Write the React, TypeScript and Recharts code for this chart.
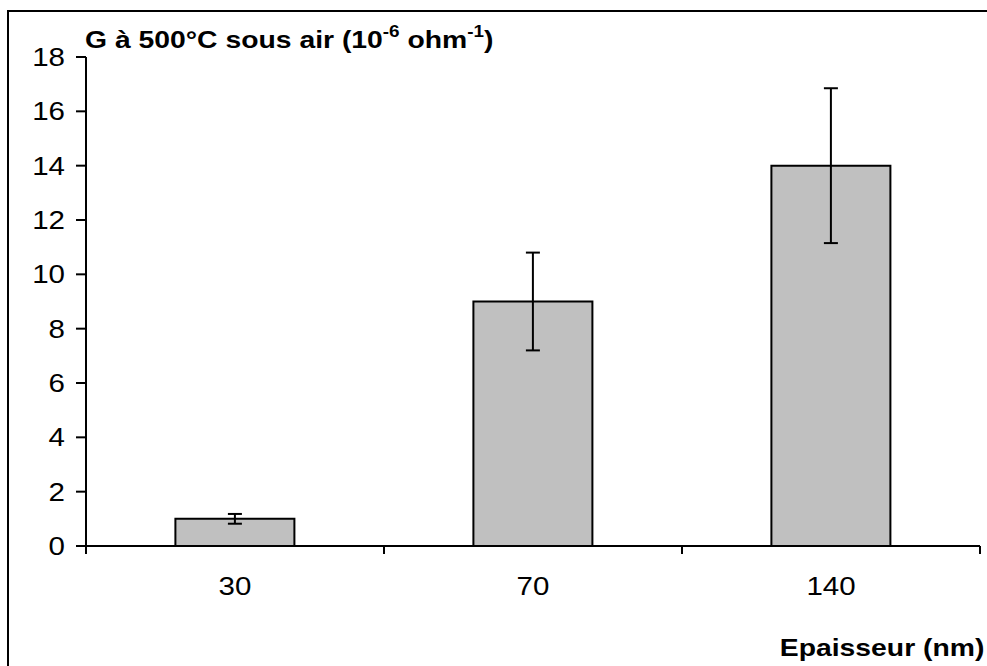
import React from "react";
import { BarChart, Bar, XAxis, YAxis, ErrorBar } from "recharts";

// Epaisseur (nm) -> conductance G (10^-6 ohm^-1)
const categories = ["30", "70", "140"];
const values = [1.0, 9.0, 14.0];
const errors = [0.18, 1.8, 2.85];
const yTicks = [0, 2, 4, 6, 8, 10, 12, 14, 16, 18];

const data = categories.map((c, i) => ({ name: c, g: values[i], err: errors[i] }));

const W = 987;
const H = 666;
const LEFT = 86;
const RIGHT = 7;
const FONT = "'Liberation Sans', Arial, Helvetica, sans-serif";
const STRETCH = 1.18; // the source text is a bit wider than tall
const band = (W - LEFT - RIGHT) / categories.length;

function CatTick(props: any) {
  const { x, y, payload, index } = props;
  const last = index === categories.length - 1;
  return (
    <g>
      <line x1={x - band / 2} x2={x - band / 2} y1={y} y2={y + 8} stroke="#000" strokeWidth={2} />
      {last && <line x1={x + band / 2} x2={x + band / 2} y1={y} y2={y + 8} stroke="#000" strokeWidth={2} />}
      <g transform={`translate(${x},${y + 49}) scale(${STRETCH},1)`}>
        <text x={0} y={0} textAnchor="middle" fontSize={25} fill="#000" fontFamily={FONT}>
          {payload.value}
        </text>
      </g>
    </g>
  );
}

function ValTick(props: any) {
  const { x, y, payload } = props;
  return (
    <g transform={`translate(${x},${y}) scale(${STRETCH},1)`}>
      <text x={0} y={0} dy="0.355em" textAnchor="end" fontSize={25} fill="#000" fontFamily={FONT}>
        {payload.value}
      </text>
    </g>
  );
}

const sup: React.CSSProperties = { fontSize: 16, position: "relative", top: -11 };

export default function App() {
  return (
    <div style={{ position: "fixed", left: 0, top: 0, width: W, height: H, overflow: "hidden", background: "#fff", fontFamily: FONT }}>
      <div style={{ position: "absolute", left: 7, top: 10, width: 1000, height: 700, borderLeft: "2px solid #000", borderTop: "2px solid #000" }} />
      <BarChart width={W} height={H} data={data} margin={{ top: 57, right: RIGHT, bottom: 0, left: 0 }} barCategoryGap="30%">
        <XAxis
          dataKey="name"
          height={H - 546}
          tickLine={false}
          tickSize={0}
          tickMargin={0}
          axisLine={{ stroke: "#000", strokeWidth: 2 }}
          tick={<CatTick />}
          interval={0}
        />
        <YAxis
          width={LEFT}
          domain={[0, 18]}
          ticks={yTicks}
          interval={0}
          tickSize={10}
          tickMargin={11}
          axisLine={{ stroke: "#000", strokeWidth: 2 }}
          tickLine={{ stroke: "#000", strokeWidth: 2 }}
          tick={<ValTick />}
        />
        <Bar dataKey="g" fill="#C0C0C0" stroke="#000" strokeWidth={2} isAnimationActive={false}>
          <ErrorBar dataKey="err" width={7} stroke="#000" strokeWidth={2} />
        </Bar>
      </BarChart>
      <div style={{ position: "absolute", left: 85, top: 27.7, fontSize: 24, fontWeight: "bold", lineHeight: 1, whiteSpace: "nowrap", color: "#000", transform: `scaleX(${STRETCH})`, transformOrigin: "left top" }}>
        G à 500°C sous air (10<span style={sup}>-6</span> ohm<span style={sup}>-1</span>)
      </div>
      <div style={{ position: "absolute", right: 3, top: 636, fontSize: 24, fontWeight: "bold", lineHeight: 1, whiteSpace: "nowrap", color: "#000", transform: `scaleX(${STRETCH})`, transformOrigin: "right top" }}>
        Epaisseur (nm)
      </div>
    </div>
  );
}
